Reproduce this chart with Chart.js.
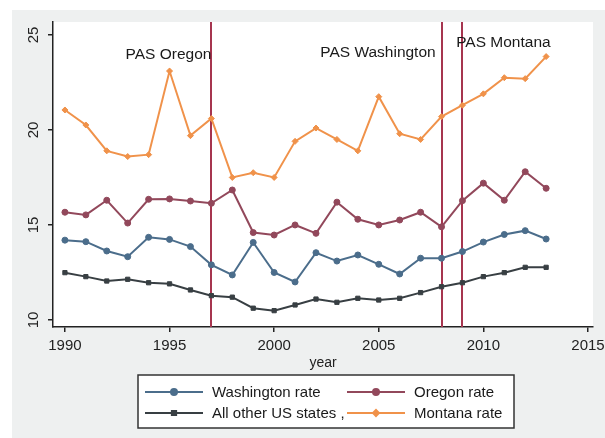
<!DOCTYPE html>
<html>
<head>
<meta charset="utf-8">
<script src="https://cdn.jsdelivr.net/npm/chart.js@4.4.1/dist/chart.umd.min.js"></script>
<style>
  html, body { margin: 0; padding: 0; background: #ffffff; }
  #wrap { width: 605px; height: 438px; position: relative; }
</style>
</head>
<body>
<div id="wrap"><canvas id="c" width="605" height="438"></canvas></div>
<script>
const years = [1990,1991,1992,1993,1994,1995,1996,1997,1998,1999,2000,2001,2002,2003,2004,2005,2006,2007,2008,2009,2010,2011,2012,2013];
const washingtonRate = [14.2,14.12,13.63,13.33,14.35,14.24,13.86,12.9,12.37,14.08,12.5,12.0,13.54,13.1,13.42,12.93,12.42,13.25,13.25,13.6,14.1,14.5,14.7,14.26];
const oregonRate = [15.67,15.53,16.3,15.1,16.35,16.37,16.26,16.14,16.84,14.6,14.47,15.0,14.56,16.2,15.3,15.0,15.26,15.67,14.9,16.28,17.2,16.3,17.8,16.93];
const otherStates = [12.49,12.28,12.05,12.14,11.96,11.9,11.58,11.28,11.2,10.62,10.49,10.79,11.1,10.93,11.14,11.05,11.14,11.44,11.75,11.96,12.28,12.49,12.77,12.77];
const montanaRate = [21.05,20.26,18.9,18.6,18.7,23.1,19.7,20.6,17.5,17.75,17.5,19.4,20.1,19.5,18.9,21.75,19.8,19.5,20.7,21.3,21.9,22.75,22.7,23.86];

const xTicks = [1990,1995,2000,2005,2010,2015];
const yTicks = [10,15,20,25];

// law changes (vertical lines) and their labels
const pasYears = [1997,2008,2009];
const pasLabels = [
  { text: 'PAS Oregon', year: 1997, value: 23.95, align: 'right' },
  { text: 'PAS Washington', year: 2007.72, value: 24.05, align: 'right' },
  { text: 'PAS Montana', year: 2008.7, value: 24.6, align: 'left' }
];

const FONT = "'Liberation Sans', Arial, sans-serif";
const colors = { wa: '#4b6d8b', or: '#92485b', other: '#383f43', mt: '#f0924a', pas: '#a6354f' };

function pts(arr){ return years.map((y,i) => ({ x: y, y: arr[i] })); }

const datasets = [
  { label: 'Washington rate', data: pts(washingtonRate), borderColor: colors.wa, backgroundColor: colors.wa, pointStyle: 'circle' },
  { label: 'Oregon rate', data: pts(oregonRate), borderColor: colors.or, backgroundColor: colors.or, pointStyle: 'circle' },
  { label: 'All other US states ,', data: pts(otherStates), borderColor: colors.other, backgroundColor: colors.other, pointStyle: 'rect' },
  { label: 'Montana rate', data: pts(montanaRate), borderColor: colors.mt, backgroundColor: colors.mt, pointStyle: 'rectRot' }
].map(d => Object.assign(d, { borderWidth: 2, pointRadius: 3, pointBorderWidth: 1, tension: 0, fill: false }));

// stata-like extras: gray backdrop, rotated y labels, PAS lines and text, boxed legend
const stataLook = {
  id: 'stataLook',
  beforeDraw(chart){
    const { ctx, chartArea: a } = chart;
    ctx.save();
    ctx.fillStyle = '#ffffff';
    ctx.fillRect(0, 0, chart.width, chart.height);
    ctx.fillStyle = '#eef0f0';
    ctx.fillRect(12, 10, chart.width - 12, chart.height - 10);
    ctx.fillStyle = '#ffffff';
    ctx.fillRect(a.left, a.top, a.right - a.left, a.bottom - a.top);
    ctx.restore();
  },
  beforeDatasetsDraw(chart){
    const { ctx, chartArea: a, scales } = chart;
    ctx.save();
    ctx.strokeStyle = colors.pas;
    ctx.lineWidth = 2;
    pasYears.forEach(y => {
      const px = Math.round(scales.x.getPixelForValue(y));
      ctx.beginPath();
      ctx.moveTo(px, a.top);
      ctx.lineTo(px, a.bottom);
      ctx.stroke();
    });
    ctx.restore();
  },
  afterDraw(chart){
    const { ctx, scales } = chart;
    ctx.save();
    // y tick labels, rotated
    ctx.fillStyle = '#222';
    ctx.font = '15px ' + FONT;
    ctx.textAlign = 'center';
    ctx.textBaseline = 'middle';
    yTicks.forEach(v => {
      const py = scales.y.getPixelForValue(v);
      ctx.save();
      ctx.translate(34, py);
      ctx.rotate(-Math.PI / 2);
      ctx.fillText(String(v), 0, 0);
      ctx.restore();
    });
    // PAS annotations
    ctx.fillStyle = '#1a1a1a';
    ctx.font = '15.5px ' + FONT;
    pasLabels.forEach(l => {
      ctx.textAlign = l.align;
      ctx.fillText(l.text, scales.x.getPixelForValue(l.year), scales.y.getPixelForValue(l.value));
    });
    // legend box
    const bx = 138, by = 375, bw = 376, bh = 53;
    ctx.fillStyle = '#ffffff';
    ctx.fillRect(bx, by, bw, bh);
    ctx.strokeStyle = '#333';
    ctx.lineWidth = 1.5;
    ctx.strokeRect(bx, by, bw, bh);
    const slots = [
      { x: 145, y: 392 }, { x: 347, y: 392 },
      { x: 145, y: 413 }, { x: 347, y: 413 }
    ];
    chart.data.datasets.forEach((ds, i) => {
      const s = slots[i];
      ctx.strokeStyle = ds.borderColor;
      ctx.lineWidth = 2;
      ctx.beginPath();
      ctx.moveTo(s.x, s.y);
      ctx.lineTo(s.x + 58, s.y);
      ctx.stroke();
      ctx.fillStyle = ds.backgroundColor;
      Chart.helpers.drawPoint(ctx, { pointStyle: ds.pointStyle, radius: 3, borderWidth: 1, rotation: 0 }, s.x + 29, s.y);
      ctx.fillStyle = '#1a1a1a';
      ctx.font = '15px ' + FONT;
      ctx.textAlign = 'left';
      ctx.textBaseline = 'middle';
      ctx.fillText(ds.label, s.x + 67, s.y + 1);
    });
    ctx.restore();
  }
};

new Chart(document.getElementById('c'), {
  type: 'line',
  data: { datasets },
  options: {
    responsive: false,
    animation: false,
    layout: { padding: { left: 12, right: 12, top: 22, bottom: 66 } },
    plugins: { legend: { display: false }, tooltip: { enabled: false } },
    scales: {
      x: {
        type: 'linear',
        min: 1989.43,
        max: 2015.24,
        afterBuildTicks: s => { s.ticks = xTicks.map(v => ({ value: v })); },
        afterFit: s => { s.height = 45; s.paddingLeft = 0; s.paddingRight = 0; },
        ticks: { autoSkip: false, maxRotation: 0, color: '#222', font: { family: FONT, size: 15 }, padding: 5, callback: v => String(v) },
        grid: { display: true, drawOnChartArea: false, drawTicks: true, tickLength: 5, color: '#222', lineWidth: 1.5 },
        border: { display: true, color: '#222', width: 1.5 },
        title: { display: true, text: 'year', color: '#222', font: { family: FONT, size: 14 }, padding: { top: 0, bottom: 0 } }
      },
      y: {
        min: 9.63,
        max: 25.68,
        afterBuildTicks: s => { s.ticks = yTicks.map(v => ({ value: v })); },
        afterFit: s => { s.width = 41; s.paddingTop = 0; s.paddingBottom = 0; },
        ticks: { color: 'rgba(0,0,0,0)', font: { family: FONT, size: 15 } },
        grid: { display: true, drawOnChartArea: false, drawTicks: true, tickLength: 5, color: '#222', lineWidth: 1.5 },
        border: { display: true, color: '#222', width: 1.5 }
      }
    }
  },
  plugins: [stataLook]
});
</script>
</body>
</html>
